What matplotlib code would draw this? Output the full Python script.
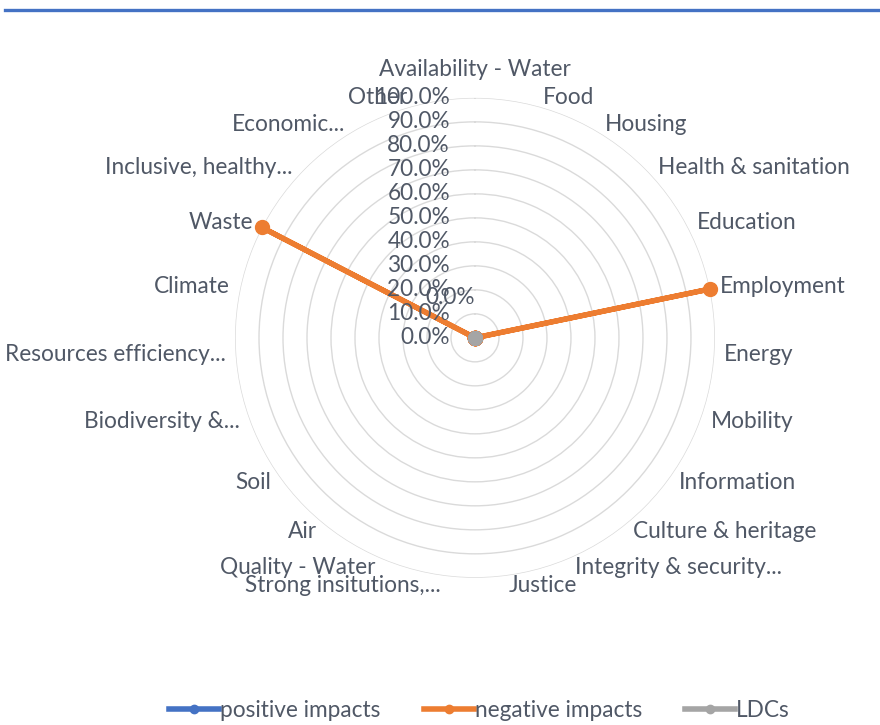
import numpy as np
import matplotlib.pyplot as plt
import matplotlib.transforms as mtransforms
from matplotlib.lines import Line2D

plt.rcParams['font.family'] = ['Lato', 'DejaVu Sans']

categories = ["Availability - Water", "Food", "Housing", "Health & sanitation",
              "Education", "Employment", "Energy", "Mobility", "Information",
              "Culture & heritage", "Integrity & security...", "Justice",
              "Strong insitutions,...", "Quality - Water", "Air", "Soil",
              "Biodiversity &...", "Resources efficiency...", "Climate", "Waste",
              "Inclusive, healthy...", "Economic...", "Other"]
positive = [0.0] * 23
negative = [0, 0, 0, 0, 0, 1.0, 0, 0, 0, 0, 0, 0, 0, 0, 0, 0, 0, 0, 0, 1.0, 0, 0, 0]
ldcs = [0.0] * 23
ticks = [0.0, 0.1, 0.2, 0.3, 0.4, 0.5, 0.6, 0.7, 0.8, 0.9, 1.0]

txt = '#505866'
fs = 16.3
n = len(categories)
ang = np.arange(n) * 2 * np.pi / n

fig = plt.figure(figsize=(8.8, 7.25), dpi=100)
fig.patch.set_facecolor('white')
# blue rule at the top
fig.add_artist(Line2D([0.006, 1.0], [0.986, 0.986], color='#4472C4', lw=2.4))

ax = fig.add_axes([0.267, 0.203, 0.5455, 0.662], projection='polar')
ax.set_theta_zero_location('N')
ax.set_theta_direction(-1)
ax.set_ylim(0, 1)
ax.spines['polar'].set_visible(False)
ax.set_xticks([])
ax.set_yticks(ticks[1:])
ax.set_yticklabels([])
ax.yaxis.grid(True, color='#dadada', lw=1.0)
ax.xaxis.grid(False)

closed = lambda v: list(v) + [v[0]]
th = closed(ang)
ax.plot(th, closed(positive), color='#4472C4', lw=3.5, marker='o', ms=8,
        zorder=3, clip_on=False)
ax.plot(th, closed(negative), color='#ED7D31', lw=3.8, marker='o', ms=10,
        zorder=4, clip_on=False)
ax.plot(th, closed(ldcs), color='#A5A5A5', lw=3.5, marker='o', ms=9.5,
        zorder=5, clip_on=False)

# radial axis labels along the top spoke
for t in ticks:
    tr = mtransforms.offset_copy(ax.transData, fig=fig, x=-25, y=0, units='dots')
    ax.text(0, t, f"{t*100:.1f}%", transform=tr, ha='right', va='center',
            fontsize=fs, color=txt, zorder=6)

# data label
tr = mtransforms.offset_copy(ax.transData, fig=fig, x=-25, y=40, units='dots')
ax.text(0, 0, "0.0%", transform=tr, ha='center', va='center', fontsize=fs,
        color=txt, zorder=6)

# category labels
for a, lab in zip(ang, categories):
    s, c = np.sin(a), np.cos(a)
    dx, dy = 10 * s, 10 * c
    if abs(s) < 0.05:
        ha, va = 'center', 'bottom'
        dy = 18
    elif s > 0:
        ha, va = 'left', 'center'
    else:
        ha, va = 'right', 'center'
    tr = mtransforms.offset_copy(ax.transData, fig=fig, x=dx, y=dy, units='dots')
    ax.text(a, 1.0, lab, transform=tr, ha=ha, va=va, fontsize=fs, color=txt,
            clip_on=False)

handles = [Line2D([], [], color='#4472C4', lw=4, marker='o', ms=6),
           Line2D([], [], color='#ED7D31', lw=4, marker='o', ms=6),
           Line2D([], [], color='#A5A5A5', lw=4, marker='o', ms=6)]
leg = fig.legend(handles, ["positive impacts", "negative impacts", "LDCs"],
                 loc='lower center', bbox_to_anchor=(0.545, -0.022), ncol=3,
                 frameon=False, fontsize=fs, handlelength=2.2,
                 handletextpad=0.05, columnspacing=1.9)
for t in leg.get_texts():
    t.set_color(txt)

fig.savefig('out.png', dpi=100, facecolor='white')
